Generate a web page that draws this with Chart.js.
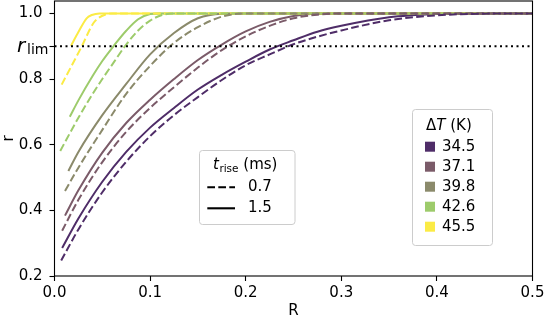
<!DOCTYPE html>
<html><head><meta charset="utf-8">
<script src="https://cdn.jsdelivr.net/npm/chart.js@4"></script>
<style>html,body{margin:0;padding:0;background:#fff}#wrap{width:545px;height:322px;position:relative}</style>
</head><body><div id="wrap"><canvas id="c"></canvas></div>
<script>
// ---- data ----
const deltaT = ['34.5', '37.1', '39.8', '42.6', '45.5'];
const tRise = ['0.7', '1.5'];
const xTicks = [0, 0.1, 0.2, 0.3, 0.4, 0.5];
const yTicks = [0.2, 0.4, 0.6, 0.8, 0.9, 1.0];
const rLim = 0.9;

// ΔT = 34.5
const R_345_15 = [0.008, 0.025, 0.05, 0.075, 0.1, 0.125, 0.15, 0.175, 0.2, 0.225, 0.25, 0.275, 0.3, 0.35, 0.4, 0.45, 0.5];
const r_345_15 = [0.285, 0.375, 0.487, 0.578, 0.652, 0.712, 0.768, 0.813, 0.853, 0.89, 0.918, 0.944, 0.962, 0.988, 0.998, 1.0, 1.0];
const R_345_07 = [0.007, 0.025, 0.05, 0.075, 0.1, 0.125, 0.15, 0.175, 0.2, 0.225, 0.25, 0.275, 0.3, 0.35, 0.4, 0.45, 0.5];
const r_345_07 = [0.247, 0.342, 0.455, 0.548, 0.626, 0.69, 0.745, 0.797, 0.842, 0.875, 0.906, 0.929, 0.948, 0.979, 0.994, 0.999, 1.0];
// ΔT = 37.1
const R_371_15 = [0.011, 0.025, 0.05, 0.075, 0.1, 0.125, 0.15, 0.175, 0.2, 0.225, 0.25, 0.275, 0.3, 0.5];
const r_371_15 = [0.384, 0.461, 0.576, 0.666, 0.737, 0.80, 0.858, 0.905, 0.945, 0.974, 0.992, 0.999, 1.0, 1.0];
const R_371_07 = [0.008, 0.025, 0.05, 0.075, 0.1, 0.125, 0.15, 0.175, 0.2, 0.225, 0.25, 0.275, 0.3, 0.5];
const r_371_07 = [0.338, 0.432, 0.547, 0.639, 0.712, 0.775, 0.835, 0.888, 0.93, 0.962, 0.985, 0.996, 1.0, 1.0];
// ΔT = 39.8
const R_398_15 = [0.0145, 0.025, 0.05, 0.075, 0.1, 0.125, 0.15, 0.175, 0.2, 0.5];
const r_398_15 = [0.52, 0.578, 0.69, 0.785, 0.875, 0.94, 0.985, 0.999, 1.0, 1.0];
const R_398_07 = [0.011, 0.025, 0.05, 0.075, 0.1, 0.125, 0.15, 0.175, 0.2, 0.5];
const r_398_07 = [0.459, 0.53, 0.645, 0.755, 0.84, 0.91, 0.958, 0.99, 1.0, 1.0];
// ΔT = 42.6
const R_426_15 = [0.016, 0.025, 0.04, 0.05, 0.0625, 0.075, 0.0875, 0.1, 0.11, 0.5];
const r_426_15 = [0.685, 0.735, 0.81, 0.855, 0.903, 0.947, 0.982, 0.998, 1.0, 1.0];
const R_426_07 = [0.006, 0.025, 0.04, 0.05, 0.0625, 0.075, 0.0875, 0.1, 0.1125, 0.125, 0.5];
const r_426_07 = [0.581, 0.682, 0.755, 0.8, 0.853, 0.905, 0.948, 0.978, 0.995, 1.0, 1.0];
// ΔT = 45.5
const R_455_15 = [0.0172, 0.025, 0.0336, 0.039, 0.047, 0.5];
const r_455_15 = [0.901, 0.943, 0.985, 0.995, 1.0, 1.0];
const R_455_07 = [0.0075, 0.0284, 0.0406, 0.047, 0.0528, 0.06, 0.5];
const r_455_07 = [0.783, 0.899, 0.97, 0.988, 0.996, 1.0, 1.0];

const colors = ['#4f2d68', '#7b5b69', '#8b8a6b', '#9dcb6b', '#fbeb45'];
const FONT = "'DejaVu Sans', sans-serif";

const seriesDashed = [[R_345_07, r_345_07], [R_371_07, r_371_07], [R_398_07, r_398_07], [R_426_07, r_426_07], [R_455_07, r_455_07]];
const seriesSolid  = [[R_345_15, r_345_15], [R_371_15, r_371_15], [R_398_15, r_398_15], [R_426_15, r_426_15], [R_455_15, r_455_15]];
const toPts = (Rs, rs) => Rs.map((v, i) => ({x: v, y: rs[i]}));
const DASH = [7.7, 3.3];

const datasets = [];
datasets.push({data: [{x: 0, y: rLim}, {x: 0.5, y: rLim}], borderColor: '#000', borderWidth: 2, borderDash: [2, 3.5], pointRadius: 0, tension: 0});
seriesDashed.forEach((s, i) => datasets.push({data: toPts(s[0], s[1]), borderColor: colors[i], borderWidth: 2, borderDash: DASH, borderCapStyle: 'butt', pointRadius: 0, cubicInterpolationMode: 'monotone'}));
seriesSolid.forEach((s, i) => datasets.push({data: toPts(s[0], s[1]), borderColor: colors[i], borderWidth: 2, pointRadius: 0, cubicInterpolationMode: 'monotone'}));

function roundRect(ctx, x, y, w, h, r) {
  ctx.beginPath();
  ctx.moveTo(x + r, y); ctx.lineTo(x + w - r, y); ctx.arcTo(x + w, y, x + w, y + r, r);
  ctx.lineTo(x + w, y + h - r); ctx.arcTo(x + w, y + h, x + w - r, y + h, r);
  ctx.lineTo(x + r, y + h); ctx.arcTo(x, y + h, x, y + h - r, r);
  ctx.lineTo(x, y + r); ctx.arcTo(x, y, x + r, y, r); ctx.closePath();
}

const deco = {
  id: 'deco',
  afterDraw(chart) {
    const ctx = chart.ctx, a = chart.chartArea, ys = chart.scales.y;
    ctx.save();
    // frame
    ctx.strokeStyle = '#000'; ctx.lineWidth = 1.1;
    ctx.strokeRect(a.left, a.top, a.right - a.left, a.bottom - a.top);
    // r_lim label
    const yl = ys.getPixelForValue(rLim);
    ctx.fillStyle = '#000'; ctx.textBaseline = 'alphabetic'; ctx.textAlign = 'left';
    ctx.font = 'italic 20px ' + FONT;
    ctx.fillText('r', 17, yl + 6);
    ctx.font = '14px ' + FONT;
    ctx.fillText('lim', 27, yl + 8);

    // ΔT legend
    ctx.lineWidth = 1; ctx.strokeStyle = '#cccccc'; ctx.fillStyle = 'rgba(255,255,255,0.85)';
    roundRect(ctx, 412.5, 109.5, 80, 136, 3); ctx.fill(); ctx.stroke();
    ctx.fillStyle = '#000'; ctx.textBaseline = 'middle';
    ctx.font = '15px ' + FONT;
    let tx = 426;
    ctx.fillText('Δ', tx, 126); tx += ctx.measureText('Δ').width;
    ctx.font = 'italic 15px ' + FONT; ctx.fillText('T', tx, 126); tx += ctx.measureText('T').width;
    ctx.font = '15px ' + FONT; ctx.fillText(' (K)', tx, 126);
    deltaT.forEach((lab, i) => {
      const y = 146.7 + 20 * i;
      ctx.fillStyle = colors[i]; ctx.fillRect(425, y - 5, 10, 10);
      ctx.fillStyle = '#000'; ctx.fillText(lab, 442, y);
    });

    // t_rise legend
    ctx.strokeStyle = '#cccccc'; ctx.fillStyle = 'rgba(255,255,255,0.85)';
    roundRect(ctx, 199.5, 150.5, 95.5, 74, 3); ctx.fill(); ctx.stroke();
    ctx.fillStyle = '#000';
    tx = 213;
    ctx.font = 'italic 15px ' + FONT; ctx.fillText('t', tx, 165); tx += ctx.measureText('t').width + 0.5;
    ctx.font = '10.5px ' + FONT; ctx.fillText('rise', tx, 169); tx += ctx.measureText('rise').width;
    ctx.font = '15px ' + FONT; ctx.fillText(' (ms)', tx, 165);
    const ly = [187.3, 208.3];
    tRise.forEach((lab, i) => {
      ctx.strokeStyle = '#000'; ctx.lineWidth = 2.1; ctx.lineCap = 'butt';
      ctx.setLineDash(i === 0 ? DASH : []);
      ctx.beginPath(); ctx.moveTo(207.3, ly[i]); ctx.lineTo(235, ly[i]); ctx.stroke();
      ctx.setLineDash([]);
      ctx.fillStyle = '#000'; ctx.font = '15px ' + FONT; ctx.fillText(lab, 248, ly[i]);
    });
    ctx.restore();
  }
};

new Chart(document.getElementById('c'), {
  type: 'line',
  data: {datasets},
  options: {
    responsive: true, maintainAspectRatio: false, animation: false,
    layout: {padding: {left: 0, right: 12.5, top: 1, bottom: 2}},
    plugins: {legend: {display: false}, tooltip: {enabled: false}},
    scales: {
      x: {
        type: 'linear', min: 0, max: 0.5,
        afterBuildTicks: s => { s.ticks = xTicks.map(v => ({value: v})); },
        afterFit: s => { s.height = 44; s.paddingLeft = 0; s.paddingRight = 0; },
        grid: {drawOnChartArea: false, drawTicks: true, tickLength: 5, tickColor: '#000', tickWidth: 1.1},
        border: {display: false},
        ticks: {color: '#000', font: {family: FONT, size: 15}, padding: 3, maxRotation: 0, callback: v => v.toFixed(1)},
        title: {display: true, text: 'R', color: '#000', font: {family: FONT, size: 15}, padding: {top: 0, bottom: 0}}
      },
      y: {
        type: 'linear', min: 0.2, max: 1.0377,
        afterBuildTicks: s => { s.ticks = yTicks.map(v => ({value: v})); },
        afterFit: s => { s.width = 54.5; s.paddingTop = 0; s.paddingBottom = 0; },
        grid: {drawOnChartArea: false, drawTicks: true, tickLength: 5, tickColor: '#000', tickWidth: 1.1},
        border: {display: false},
        ticks: {color: '#000', font: {family: FONT, size: 15}, padding: 7, callback: v => (Math.abs(v - rLim) < 1e-9 ? '' : v.toFixed(1))},
        title: {display: true, text: 'r', color: '#000', font: {family: FONT, size: 15}, padding: {top: 0, bottom: 0}}
      }
    }
  },
  plugins: [deco]
});
</script></body></html>
